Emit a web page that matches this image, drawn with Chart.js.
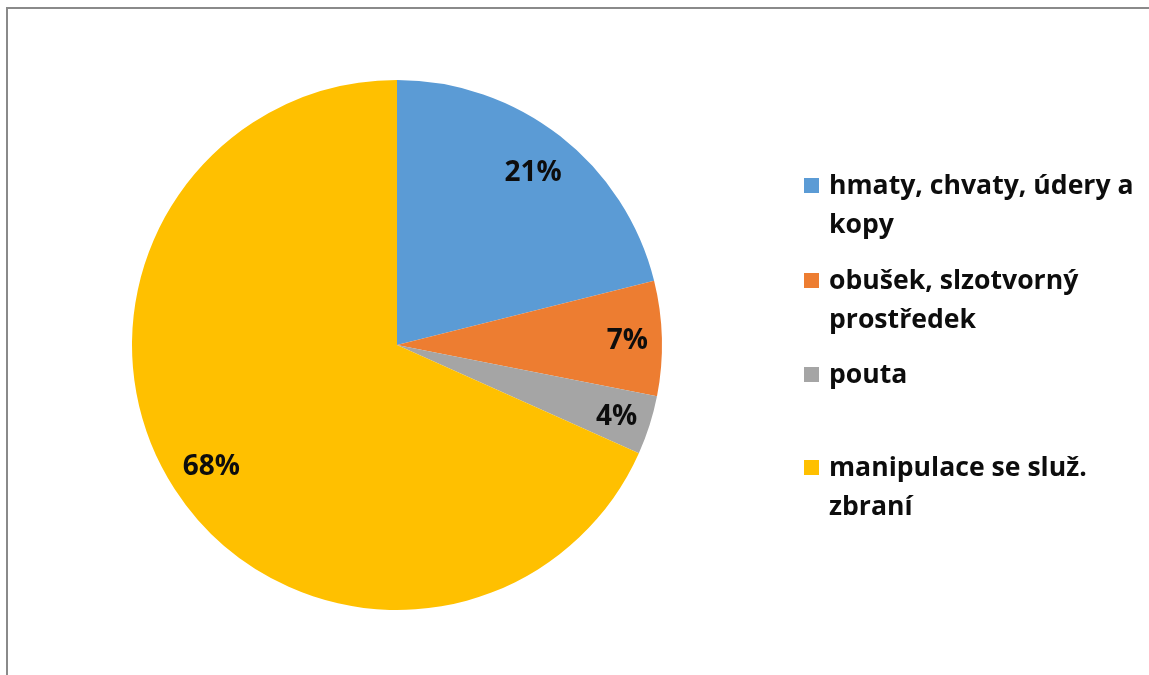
<!DOCTYPE html>
<html>
<head>
<meta charset="utf-8">
<script src="https://cdn.jsdelivr.net/npm/chart.js@4.4.1/dist/chart.umd.min.js"></script>
<style>
  html, body { margin: 0; padding: 0; background: #ffffff; }
  #wrap { position: relative; width: 1149px; height: 675px; overflow: hidden; background: #fff; }
  #frame { position: absolute; left: 6px; top: 7px; width: 1200px; height: 800px;
           border-top: 2px solid #8a8a8a; border-left: 2px solid #8a8a8a; box-sizing: border-box; }
  canvas#c { position: absolute; left: 0; top: 0; }
  #legend { position: absolute; left: 0; top: 0; width: 1149px; height: 675px; pointer-events: none; }
  .item { position: absolute; left: 804px; width: 345px; font-family: "Open Sans", Lato, sans-serif;
          font-weight: bold; font-size: 26.6px; line-height: 39px; color: #0d0d0d; }
  .sw { position: absolute; left: 0; width: 15px; height: 15px; }
  .txt { margin-left: 25px; width: 314px; }
</style>
</head>
<body>
<div id="wrap">
  <div id="frame"></div>
  <canvas id="c" width="1149" height="675"></canvas>
  <div id="legend"></div>
</div>
<script>
const categories = ["hmaty, chvaty, údery a kopy", "obušek, slzotvorný prostředek", "pouta", "manipulace se služ. zbraní"];
const values = [21.1, 7.0, 3.6, 68.3];
const percentLabels = ["21%", "7%", "4%", "68%"];
const colors = ["#5B9BD5", "#ED7D31", "#A5A5A5", "#FFC000"];

const labelPlugin = {
  id: 'sliceLabels',
  afterDatasetsDraw(chart) {
    const ctx = chart.ctx;
    const meta = chart.getDatasetMeta(0);
    ctx.save();
    ctx.font = 'bold 28px "Open Sans", Lato, sans-serif';
    ctx.fillStyle = '#0d0d0d';
    ctx.textAlign = 'center';
    ctx.textBaseline = 'middle';
    meta.data.forEach((arc, i) => {
      const span = arc.endAngle - arc.startAngle;
      const mid = (arc.startAngle + arc.endAngle) / 2;
      const r = arc.outerRadius * (span < 0.6 ? 0.87 : 0.835);
      const x = arc.x + Math.cos(mid) * r;
      const y = arc.y + Math.sin(mid) * r + 2;
      ctx.fillText(percentLabels[i], x, y);
    });
    ctx.restore();
  }
};

new Chart(document.getElementById('c'), {
  type: 'pie',
  data: {
    labels: categories,
    datasets: [{ data: values, backgroundColor: colors, borderWidth: 0 }]
  },
  options: {
    responsive: false,
    animation: false,
    layout: { padding: { left: 132, top: 80, right: 487, bottom: 65 } },
    plugins: { legend: { display: false }, tooltip: { enabled: false } }
  },
  plugins: [labelPlugin]
});

const tops = [165, 260, 354, 447];
const legend = document.getElementById('legend');
categories.forEach((c, i) => {
  const d = document.createElement('div');
  d.className = 'item';
  d.style.top = tops[i] + 'px';
  const sw = document.createElement('div');
  sw.className = 'sw';
  sw.style.background = colors[i];
  sw.style.top = '13px';
  const t = document.createElement('div');
  t.className = 'txt';
  t.textContent = c;
  d.appendChild(sw);
  d.appendChild(t);
  legend.appendChild(d);
});
</script>
</body>
</html>
